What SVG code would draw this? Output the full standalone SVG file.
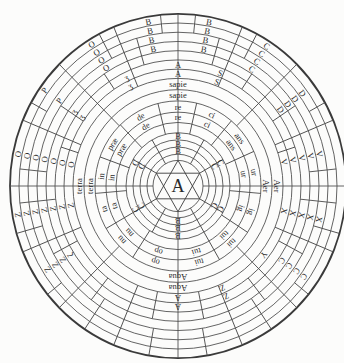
<svg xmlns="http://www.w3.org/2000/svg" width="344" height="363" viewBox="0 0 344 363">
<style>
.c{fill:none;stroke:#4a4a4a;stroke-width:0.85}
.o{fill:none;stroke:#3a3a3a;stroke-width:1.8}
#connectors line{stroke:#4a4a4a;stroke-width:0.85}
.s{fill:none;stroke:#3c3c3c;stroke-width:0.9}
text{font-family:"Liberation Serif","DejaVu Serif",serif;font-size:8.5px;fill:#2a2a2a;text-anchor:middle}
.L{font-size:11px}
.ctr{font-size:18px}
</style>
<rect width="344" height="363" fill="#fcfcfb"/>
<g transform="translate(178,186) scale(1,1.025)">
<g id="rings">
<circle class="c" r="25"/><circle class="c" r="31"/><circle class="c" r="38"/><circle class="c" r="45"/><circle class="c" r="52"/>
<circle class="c" r="62"/><circle class="c" r="72"/><circle class="c" r="83"/><circle class="c" r="94"/><circle class="c" r="105"/>
<circle class="c" r="114"/><circle class="c" r="123"/><circle class="c" r="132"/><circle class="c" r="141"/><circle class="c" r="150"/><circle class="c" r="159"/>
<circle class="o" r="168"/>
</g>
<g id="star">
<polygon class="s" points="0,-25 21.65,12.5 -21.65,12.5"/>
<polygon class="s" points="0,25 21.65,-12.5 -21.65,-12.5"/>
</g>
<g id="connectors">
<line y1="-25" y2="-168"/><line y1="-25" y2="-168" transform="rotate(90)"/><line y1="-25" y2="-168" transform="rotate(180)"/><line y1="-25" y2="-168" transform="rotate(270)"/>
<line y1="-25" y2="-52" transform="rotate(30)"/><line y1="-25" y2="-52" transform="rotate(60)"/><line y1="-25" y2="-52" transform="rotate(120)"/><line y1="-25" y2="-52" transform="rotate(150)"/>
<line y1="-25" y2="-52" transform="rotate(210)"/><line y1="-25" y2="-52" transform="rotate(240)"/><line y1="-25" y2="-52" transform="rotate(300)"/><line y1="-25" y2="-52" transform="rotate(330)"/>
<line y1="-52" y2="-83" transform="rotate(13)"/><line y1="-52" y2="-83" transform="rotate(40)"/><line y1="-52" y2="-83" transform="rotate(66)"/><line y1="-52" y2="-83" transform="rotate(95)"/><line y1="-52" y2="-83" transform="rotate(123)"/><line y1="-52" y2="-83" transform="rotate(150)"/>
<line y1="-52" y2="-83" transform="rotate(-14)"/><line y1="-52" y2="-83" transform="rotate(-44)"/><line y1="-52" y2="-83" transform="rotate(-70)"/><line y1="-52" y2="-83" transform="rotate(-95)"/><line y1="-52" y2="-83" transform="rotate(-120)"/><line y1="-52" y2="-83" transform="rotate(-147)"/>
<line y1="-83" y2="-105" transform="rotate(45)"/><line y1="-83" y2="-105" transform="rotate(135)"/><line y1="-83" y2="-105" transform="rotate(225)"/><line y1="-83" y2="-105" transform="rotate(315)"/>
<line y1="-105" y2="-168" transform="rotate(22.5)"/><line y1="-105" y2="-168" transform="rotate(45)"/><line y1="-105" y2="-168" transform="rotate(67.5)"/><line y1="-105" y2="-168" transform="rotate(112.5)"/><line y1="-105" y2="-168" transform="rotate(135)"/><line y1="-105" y2="-168" transform="rotate(157.5)"/>
<line y1="-105" y2="-168" transform="rotate(-22.5)"/><line y1="-105" y2="-168" transform="rotate(-45)"/><line y1="-105" y2="-168" transform="rotate(-67.5)"/><line y1="-105" y2="-168" transform="rotate(-112.5)"/><line y1="-105" y2="-168" transform="rotate(-135)"/><line y1="-105" y2="-168" transform="rotate(-157.5)"/>
<line y1="-123" y2="-150" transform="rotate(16)"/><line y1="-123" y2="-150" transform="rotate(-16)"/><line y1="-141" y2="-168" transform="rotate(28)"/><line y1="-141" y2="-168" transform="rotate(-28)"/>
<line y1="-114" y2="-132" transform="rotate(34)"/><line y1="-114" y2="-132" transform="rotate(-34)"/><line y1="-150" y2="-168" transform="rotate(6)"/><line y1="-150" y2="-168" transform="rotate(-6)"/>
<line y1="-114" y2="-141" transform="rotate(56.25)"/><line y1="-114" y2="-141" transform="rotate(-56.25)"/><line y1="-150" y2="-168" transform="rotate(61)"/><line y1="-150" y2="-168" transform="rotate(-61)"/>
<line y1="-132" y2="-159" transform="rotate(84)"/><line y1="-132" y2="-159" transform="rotate(-84)"/><line y1="-105" y2="-123" transform="rotate(72)"/><line y1="-105" y2="-123" transform="rotate(-72)"/>
<line y1="-123" y2="-159" transform="rotate(96)"/><line y1="-123" y2="-159" transform="rotate(-96)"/><line y1="-141" y2="-168" transform="rotate(106)"/><line y1="-141" y2="-168" transform="rotate(-106)"/>
<line y1="-114" y2="-141" transform="rotate(118)"/><line y1="-114" y2="-141" transform="rotate(-118)"/><line y1="-150" y2="-168" transform="rotate(129)"/><line y1="-150" y2="-168" transform="rotate(-129)"/>
<line y1="-132" y2="-168" transform="rotate(146.25)"/><line y1="-132" y2="-168" transform="rotate(-146.25)"/><line y1="-105" y2="-132" transform="rotate(168.75)"/><line y1="-105" y2="-132" transform="rotate(-168.75)"/>
<line y1="-141" y2="-168" transform="rotate(170)"/><line y1="-141" y2="-168" transform="rotate(-170)"/><line y1="-114" y2="-141" transform="rotate(142)"/><line y1="-114" y2="-141" transform="rotate(-142)"/>
</g>
<g id="labels">
<text class="ctr" y="6">A</text>
<text transform="rotate(0) translate(0,-34.5)" y="3">B</text><text transform="rotate(0) translate(0,-41.5)" y="3">B</text><text transform="rotate(0) translate(0,-48.5)" y="3">B</text>
<text transform="rotate(180) translate(0,-34.5)" y="3">B</text><text transform="rotate(180) translate(0,-41.5)" y="3">B</text><text transform="rotate(180) translate(0,-48.5)" y="3">B</text>
<text transform="rotate(62) translate(0,-41.5)" y="3">C</text><text transform="rotate(62) translate(0,-48.5)" y="3">C</text>
<text transform="rotate(118) translate(0,-41.5)" y="3">C</text><text transform="rotate(118) translate(0,-48.5)" y="3">C</text>
<text transform="rotate(-62) translate(0,-41.5)" y="3">C</text><text transform="rotate(-62) translate(0,-48.5)" y="3">C</text>
<text transform="rotate(-118) translate(0,-41.5)" y="3">C</text><text transform="rotate(-118) translate(0,-48.5)" y="3">C</text>
<text transform="rotate(0) translate(0,-67)" y="3">re</text><text transform="rotate(0) translate(0,-77.5)" y="3">re</text>
<text transform="rotate(26) translate(0,-67)" y="3">ci</text><text transform="rotate(26) translate(0,-77.5)" y="3">ci</text>
<text transform="rotate(53) translate(0,-67)" y="3">ans</text><text transform="rotate(53) translate(0,-77.5)" y="3">ans</text>
<text transform="rotate(80) translate(0,-67)" y="3">ur</text><text transform="rotate(80) translate(0,-77.5)" y="3">ur</text>
<text transform="rotate(109) translate(0,-67)" y="3">ig</text><text transform="rotate(109) translate(0,-77.5)" y="3">ig</text>
<text transform="rotate(136) translate(0,-67)" y="3">tui</text><text transform="rotate(136) translate(0,-77.5)" y="3">tui</text>
<text transform="rotate(164) translate(0,-67)" y="3">tui</text><text transform="rotate(164) translate(0,-77.5)" y="3">tui</text>
<text transform="rotate(-29) translate(0,-67)" y="3">de</text><text transform="rotate(-29) translate(0,-77.5)" y="3">de</text>
<text transform="rotate(-58) translate(0,-67)" y="3">præ</text><text transform="rotate(-58) translate(0,-77.5)" y="3">præ</text>
<text transform="rotate(-83) translate(0,-67)" y="3">in</text><text transform="rotate(-83) translate(0,-77.5)" y="3">in</text>
<text transform="rotate(-107) translate(0,-67)" y="3">ta</text><text transform="rotate(-107) translate(0,-77.5)" y="3">ta</text>
<text transform="rotate(-133) translate(0,-67)" y="3">nu</text><text transform="rotate(-133) translate(0,-77.5)" y="3">nu</text>
<text transform="rotate(-163) translate(0,-67)" y="3">op</text><text transform="rotate(-163) translate(0,-77.5)" y="3">op</text>
<text transform="rotate(0) translate(0,-88.5)" y="3">sapie</text><text transform="rotate(0) translate(0,-99.5)" y="3">sapie</text>
<text transform="rotate(90) translate(0,-88.5)" y="3">Aer</text><text transform="rotate(90) translate(0,-99.5)" y="3">Aer</text>
<text transform="rotate(180) translate(0,-88.5)" y="3">Aqua</text><text transform="rotate(180) translate(0,-99.5)" y="3">Aqua</text>
<text transform="rotate(-90) translate(0,-88.5)" y="3">terra</text><text transform="rotate(-90) translate(0,-99.5)" y="3">terra</text>
<g class="L">
<text transform="rotate(0) translate(0,-109.5)" y="3.5">A</text><text transform="rotate(0) translate(0,-118.5)" y="3.5">A</text>
<text transform="rotate(180) translate(0,-109.5)" y="3.5">A</text><text transform="rotate(180) translate(0,-118.5)" y="3.5">A</text>
<text transform="rotate(21) translate(0,-109.5)" y="3.5">S</text><text transform="rotate(21) translate(0,-118.5)" y="3.5">S</text>
<text transform="rotate(-26) translate(0,-109.5)" y="3.5">ʒ</text><text transform="rotate(-26) translate(0,-118.5)" y="3.5">ʒ</text>
<text transform="rotate(156) translate(0,-109.5)" y="3.5">Z</text><text transform="rotate(156) translate(0,-118.5)" y="3.5">Z</text>
<text transform="rotate(-10.5) translate(0,-136.5)" y="3.5">B</text><text transform="rotate(-10.5) translate(0,-145.5)" y="3.5">B</text><text transform="rotate(-10.5) translate(0,-154.5)" y="3.5">B</text><text transform="rotate(-10.5) translate(0,-163.5)" y="3.5">B</text>
<text transform="rotate(11) translate(0,-136.5)" y="3.5">B</text><text transform="rotate(11) translate(0,-145.5)" y="3.5">B</text><text transform="rotate(11) translate(0,-154.5)" y="3.5">B</text><text transform="rotate(11) translate(0,-163.5)" y="3.5">B</text>
<text transform="rotate(33) translate(0,-136.5)" y="3.5">C</text><text transform="rotate(33) translate(0,-145.5)" y="3.5">C</text><text transform="rotate(33) translate(0,-154.5)" y="3.5">C</text><text transform="rotate(33) translate(0,-163.5)" y="3.5">C</text>
<text transform="rotate(-32) translate(0,-136.5)" y="3.5">O</text><text transform="rotate(-32) translate(0,-145.5)" y="3.5">O</text><text transform="rotate(-32) translate(0,-154.5)" y="3.5">O</text><text transform="rotate(-32) translate(0,-163.5)" y="3.5">O</text>
<text transform="rotate(54) translate(0,-127.5)" y="3.5">D</text><text transform="rotate(54) translate(0,-136.5)" y="3.5">D</text><text transform="rotate(54) translate(0,-145.5)" y="3.5">D</text><text transform="rotate(54) translate(0,-154.5)" y="3.5">D</text>
<text transform="rotate(-55) translate(0,-118.5)" y="3.5">ʒ</text><text transform="rotate(-55) translate(0,-127.5)" y="3.5">ʒ</text><text transform="rotate(-55) translate(0,-145.5)" y="3.5">P</text><text transform="rotate(-55) translate(0,-163.5)" y="3.5">P</text>
<text transform="rotate(77.5) translate(0,-109.5)" y="3.5">V</text><text transform="rotate(77.5) translate(0,-118.5)" y="3.5">V</text><text transform="rotate(77.5) translate(0,-127.5)" y="3.5">V</text><text transform="rotate(77.5) translate(0,-136.5)" y="3.5">V</text><text transform="rotate(77.5) translate(0,-145.5)" y="3.5">V</text>
<text transform="rotate(-79) translate(0,-109.5)" y="3.5">O</text><text transform="rotate(-79) translate(0,-118.5)" y="3.5">O</text><text transform="rotate(-79) translate(0,-127.5)" y="3.5">O</text><text transform="rotate(-79) translate(0,-136.5)" y="3.5">O</text><text transform="rotate(-79) translate(0,-145.5)" y="3.5">O</text><text transform="rotate(-79) translate(0,-154.5)" y="3.5">O</text><text transform="rotate(-79) translate(0,-163.5)" y="3.5">O</text>
<text transform="rotate(103) translate(0,-109.5)" y="3.5">X</text><text transform="rotate(103) translate(0,-118.5)" y="3.5">X</text><text transform="rotate(103) translate(0,-127.5)" y="3.5">X</text><text transform="rotate(103) translate(0,-136.5)" y="3.5">X</text><text transform="rotate(103) translate(0,-145.5)" y="3.5">X</text>
<text transform="rotate(-100) translate(0,-109.5)" y="3.5">Z</text><text transform="rotate(-100) translate(0,-118.5)" y="3.5">Z</text><text transform="rotate(-100) translate(0,-127.5)" y="3.5">Z</text><text transform="rotate(-100) translate(0,-136.5)" y="3.5">Z</text><text transform="rotate(-100) translate(0,-145.5)" y="3.5">Z</text><text transform="rotate(-100) translate(0,-154.5)" y="3.5">Z</text><text transform="rotate(-100) translate(0,-163.5)" y="3.5">Z</text>
<text transform="rotate(128) translate(0,-109.5)" y="3.5">Y</text><text transform="rotate(125) translate(0,-127.5)" y="3.5">C</text><text transform="rotate(125) translate(0,-136.5)" y="3.5">C</text><text transform="rotate(125) translate(0,-145.5)" y="3.5">C</text><text transform="rotate(125) translate(0,-154.5)" y="3.5">C</text>
<text transform="rotate(-122) translate(0,-127.5)" y="3.5">ζ</text><text transform="rotate(-122) translate(0,-136.5)" y="3.5">Z</text><text transform="rotate(-122) translate(0,-145.5)" y="3.5">Z</text><text transform="rotate(-122) translate(0,-154.5)" y="3.5">Z</text>
</g>
</g>
</g>
</svg>
